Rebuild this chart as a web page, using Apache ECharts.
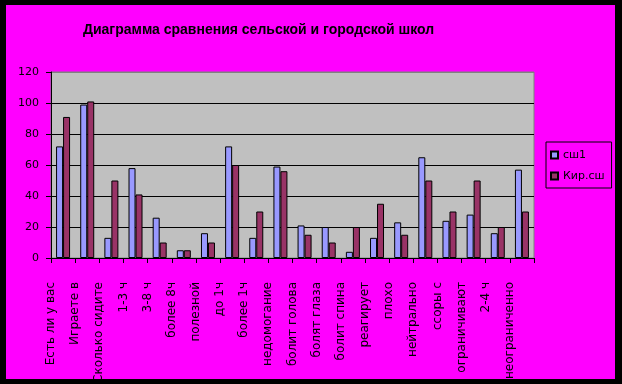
<!DOCTYPE html>
<html>
<head>
<meta charset="utf-8">
<script src="https://cdn.jsdelivr.net/npm/echarts@6/dist/echarts.min.js"></script>
<style>
html,body{margin:0;padding:0;background:#000;}
#wrap{position:relative;width:622px;height:384px;background:#000;overflow:hidden;}
#chart{position:absolute;left:6px;top:5px;width:609px;height:374px;}
</style>
</head>
<body>
<div id="wrap"><div id="chart"></div></div>
<script>
var titleText = 'Диаграмма сравнения сельской и городской школ';
var categories = ['Есть ли у вас', 'Играете в', 'Сколько сидите', '1-3 ч', '3-8 ч', 'более 8ч', 'полезной', 'до 1ч', 'более 1ч', 'недомогание', 'болит голова', 'болят глаза', 'болит спина', 'реагирует', 'плохо', 'нейтрально', 'ссоры с', 'ограничивают', '2-4 ч', 'неограниченно'];
var seriesNames = ['сш1', 'Кир.сш'];
var sh1 = [72, 99, 13, 58, 26, 5, 16, 72, 13, 59, 21, 20, 4, 13, 23, 65, 24, 28, 16, 57];
var kir = [91, 101, 50, 41, 10, 5, 10, 60, 30, 56, 15, 10, 20, 35, 15, 50, 30, 50, 20, 30];
var yTicks = [0, 20, 40, 60, 80, 100, 120];

var chart = echarts.init(document.getElementById('chart'), null, {renderer: 'canvas'});
var font = 'Liberation Sans, Arial, sans-serif';
var wide = 'DejaVu Sans, sans-serif';
var option = {
  backgroundColor: '#FF00FF',
  animation: false,
  title: {
    text: titleText,
    left: 77, top: 18, padding: 0,
    textStyle: {fontFamily: font, fontSize: 14, fontWeight: 'bold', color: '#000'}
  },
  legend: {
    orient: 'vertical',
    left: 540, top: 137,
    padding: [7, 7, 6, 4],
    itemWidth: 7, itemHeight: 7, itemGap: 9,
    borderColor: '#000', borderWidth: 1,
    icon: 'rect',
    textStyle: {fontFamily: wide, fontSize: 11, color: '#000', lineHeight: 12},
    data: seriesNames
  },
  grid: {
    left: 45, top: 67, right: 81, bottom: 121,
    show: true, backgroundColor: '#C0C0C0', borderColor: '#808080', borderWidth: 1,
    containLabel: false,
    outerBoundsMode: 'none'
  },
  xAxis: [{
    type: 'category',
    data: categories,
    boundaryGap: true,
    axisLine: {show: true, lineStyle: {color: '#000', width: 1}},
    axisTick: {show: true, interval: 0, length: 5, lineStyle: {color: '#000'}},
    axisLabel: {show: false},
    splitLine: {show: false}
  }, {
    type: 'category',
    position: 'bottom',
    data: categories.concat(['']),
    boundaryGap: false,
    axisLine: {show: false},
    axisTick: {show: false},
    splitLine: {show: false},
    axisLabel: {show: true, interval: 0, rotate: 90, margin: 24, fontFamily: wide, fontSize: 12, color: '#000'}
  }],
  yAxis: {
    type: 'value',
    min: yTicks[0], max: yTicks[yTicks.length - 1], interval: 20,
    axisLine: {show: true, lineStyle: {color: '#000', width: 1}},
    axisTick: {show: true, length: 5, lineStyle: {color: '#000'}},
    axisLabel: {margin: 12, fontFamily: wide, fontSize: 11, color: '#000'},
    splitLine: {show: true, lineStyle: {color: ['#000', '#000', '#000', '#000', '#000', '#000', '#808080'], width: 1}}
  },
  series: [{
    name: seriesNames[0], type: 'bar', data: sh1,
    barWidth: 7, barGap: '0%',
    itemStyle: {color: '#9999FF', borderColor: '#000', borderWidth: 1}
  }, {
    name: seriesNames[1], type: 'bar', data: kir,
    barWidth: 7, barGap: '0%',
    itemStyle: {color: '#993366', borderColor: '#000', borderWidth: 1}
  }]
};
chart.setOption(option);
</script>
</body>
</html>
